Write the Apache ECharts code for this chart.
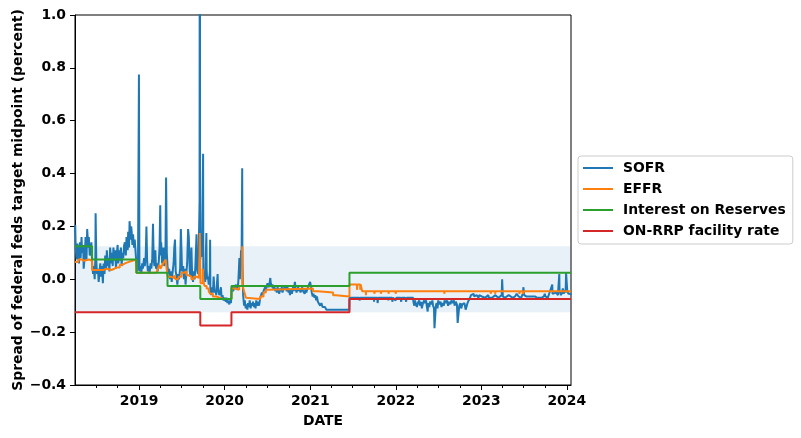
<!DOCTYPE html>
<html>
<head>
<meta charset="utf-8">
<script src="https://cdn.jsdelivr.net/npm/echarts@6/dist/echarts.min.js"></script>
<style>
html,body{margin:0;padding:0;background:#fff;}
#chart{width:801px;height:438px;}
</style>
</head>
<body>
<div id="chart"></div>
<script>
// ---- data (spread vs. fed funds target midpoint, percent) ----
const seriesNames = ["SOFR", "EFFR", "Interest on Reserves", "ON-RRP facility rate"];
const yTicks = [-0.4, -0.2, 0.0, 0.2, 0.4, 0.6, 0.8, 1.0];
const xTickYears = [2019, 2020, 2021, 2022, 2023, 2024];
const dateStart = "2018-04-02";
const dateEnd = "2024-01-19";
const bandLow = -0.125;
const bandHigh = 0.125;

const sofr = [
["2018-04-02",0.175],["2018-04-03",0.205],["2018-04-05",0.115],["2018-04-09",0.075],["2018-04-12",0.135],["2018-04-16",0.105],["2018-04-19",0.06],["2018-04-23",0.14],["2018-04-26",0.08],["2018-04-30",0.16],
["2018-05-02",0.10],["2018-05-07",0.13],["2018-05-09",0.04],["2018-05-14",0.09],["2018-05-17",0.16],["2018-05-21",0.07],["2018-05-24",0.19],["2018-05-29",0.12],["2018-05-31",0.16],
["2018-06-04",0.09],["2018-06-07",0.11],["2018-06-11",0.14],["2018-06-14",0.06],["2018-06-18",0.02],["2018-06-21",0.05],["2018-06-25",0.0],["2018-06-28",0.08],["2018-06-29",0.25],
["2018-07-02",0.07],["2018-07-05",0.02],["2018-07-09",0.04],["2018-07-12",-0.01],["2018-07-16",0.03],["2018-07-19",0.06],["2018-07-23",0.01],["2018-07-26",0.05],["2018-07-30",-0.015],
["2018-08-02",0.06],["2018-08-06",0.02],["2018-08-09",0.09],["2018-08-13",0.04],["2018-08-16",0.11],["2018-08-20",0.05],["2018-08-23",0.08],["2018-08-27",0.03],["2018-08-30",0.12],
["2018-09-04",0.06],["2018-09-06",0.10],["2018-09-10",0.05],["2018-09-13",0.12],["2018-09-17",0.07],["2018-09-20",0.11],["2018-09-24",0.04],["2018-09-27",0.09],
["2018-10-01",0.13],["2018-10-04",0.06],["2018-10-09",0.11],["2018-10-11",0.07],["2018-10-15",0.12],["2018-10-18",0.05],["2018-10-22",0.10],["2018-10-25",0.08],["2018-10-29",0.13],
["2018-11-01",0.14],["2018-11-05",0.09],["2018-11-08",0.16],["2018-11-13",0.11],["2018-11-15",0.18],["2018-11-19",0.12],["2018-11-21",0.22],["2018-11-26",0.15],["2018-11-28",0.20],["2018-11-30",0.18],
["2018-12-03",0.13],["2018-12-06",0.17],["2018-12-10",0.12],["2018-12-13",0.15],["2018-12-17",0.10],["2018-12-20",0.06],["2018-12-24",0.03],["2018-12-27",0.04],["2018-12-31",0.775],
["2019-01-02",0.06],["2019-01-04",0.03],["2019-01-08",0.05],["2019-01-10",0.02],["2019-01-14",0.06],["2019-01-17",0.04],["2019-01-22",0.08],["2019-01-25",0.05],["2019-01-29",0.09],
["2019-02-01",0.20],["2019-02-04",0.07],["2019-02-07",0.03],["2019-02-11",0.05],["2019-02-14",0.02],["2019-02-19",0.06],["2019-02-22",0.04],["2019-02-26",0.08],
["2019-03-01",0.21],["2019-03-04",0.08],["2019-03-07",0.05],["2019-03-11",0.11],["2019-03-14",0.04],["2019-03-18",0.06],["2019-03-21",0.03],["2019-03-26",0.07],["2019-03-29",0.12],
["2019-04-01",0.28],["2019-04-03",0.09],["2019-04-05",0.14],["2019-04-09",0.06],["2019-04-12",0.09],["2019-04-15",0.12],["2019-04-18",0.05],["2019-04-23",0.08],["2019-04-26",0.385],["2019-04-29",0.10],
["2019-05-02",0.05],["2019-05-06",0.02],["2019-05-09",0.04],["2019-05-13",0.0],["2019-05-16",0.03],["2019-05-20",-0.01],["2019-05-23",0.02],["2019-05-28",0.06],["2019-05-31",0.12],
["2019-06-03",0.15],["2019-06-06",0.03],["2019-06-10",0.01],["2019-06-13",-0.02],["2019-06-17",0.02],["2019-06-20",0.0],["2019-06-25",0.04],["2019-06-28",0.19],
["2019-07-01",0.10],["2019-07-03",0.03],["2019-07-08",0.05],["2019-07-11",0.0],["2019-07-15",0.04],["2019-07-18",-0.02],["2019-07-22",0.03],["2019-07-25",0.06],["2019-07-29",0.19],
["2019-08-01",0.16],["2019-08-05",0.03],["2019-08-08",0.01],["2019-08-12",0.12],["2019-08-15",0.02],["2019-08-19",-0.01],["2019-08-22",0.03],["2019-08-26",0.0],["2019-08-29",0.05],
["2019-09-03",0.17],["2019-09-05",0.04],["2019-09-09",0.02],["2019-09-12",0.09],["2019-09-16",0.30],["2019-09-17",3.125],["2019-09-18",0.425],["2019-09-19",0.075],["2019-09-20",0.125],["2019-09-23",0.085],["2019-09-25",0.11],["2019-09-27",0.14],
["2019-10-01",0.475],["2019-10-02",0.03],["2019-10-04",0.0],["2019-10-08",0.02],["2019-10-10",-0.01],["2019-10-15",0.175],["2019-10-16",0.04],["2019-10-18",0.0],["2019-10-22",0.01],["2019-10-25",-0.02],["2019-10-30",0.03],["2019-10-31",0.15],
["2019-11-01",-0.04],["2019-11-05",-0.06],["2019-11-08",-0.03],["2019-11-12",-0.05],["2019-11-15",0.01],["2019-11-19",-0.05],["2019-11-22",-0.04],["2019-11-26",-0.06],
["2019-12-02",0.02],["2019-12-04",-0.04],["2019-12-09",-0.06],["2019-12-12",-0.05],["2019-12-16",-0.03],["2019-12-19",-0.07],["2019-12-23",-0.06],["2019-12-27",-0.08],["2019-12-31",-0.075],
["2020-01-02",-0.07],["2020-01-06",-0.085],["2020-01-09",-0.07],["2020-01-13",-0.09],["2020-01-16",-0.08],["2020-01-21",-0.095],["2020-01-24",-0.08],["2020-01-28",-0.09],["2020-01-31",-0.04],
["2020-02-03",-0.03],["2020-02-06",-0.045],["2020-02-10",-0.035],["2020-02-13",-0.04],["2020-02-18",-0.02],["2020-02-21",-0.04],["2020-02-25",-0.03],["2020-02-28",-0.015],
["2020-03-02",0.04],["2020-03-04",0.08],["2020-03-06",0.0],["2020-03-09",0.05],["2020-03-11",0.11],["2020-03-13",0.05],["2020-03-16",0.42],["2020-03-17",0.06],["2020-03-18",0.02],["2020-03-20",-0.06],["2020-03-24",-0.10],["2020-03-27",-0.08],["2020-03-31",-0.11],
["2020-04-03",-0.095],["2020-04-07",-0.115],["2020-04-10",-0.09],["2020-04-14",-0.105],["2020-04-17",-0.08],["2020-04-21",-0.11],["2020-04-24",-0.09],["2020-04-28",-0.10],
["2020-05-01",-0.085],["2020-05-05",-0.105],["2020-05-08",-0.09],["2020-05-12",-0.11],["2020-05-15",-0.08],["2020-05-19",-0.10],["2020-05-22",-0.085],["2020-05-27",-0.10],
["2020-06-01",-0.07],["2020-06-04",-0.065],["2020-06-08",-0.05],["2020-06-11",-0.06],["2020-06-15",-0.045],["2020-06-18",-0.05],["2020-06-22",-0.03],["2020-06-25",-0.04],["2020-06-30",-0.035],
["2020-07-02",-0.015],["2020-07-07",-0.03],["2020-07-10",-0.02],["2020-07-14",0.005],["2020-07-16",-0.015],["2020-07-20",-0.03],["2020-07-23",-0.02],["2020-07-28",-0.04],["2020-07-31",-0.025],
["2020-08-04",-0.045],["2020-08-07",-0.035],["2020-08-11",-0.05],["2020-08-14",-0.03],["2020-08-18",-0.04],["2020-08-21",-0.055],["2020-08-25",-0.035],["2020-08-28",-0.045],
["2020-09-01",-0.03],["2020-09-04",-0.05],["2020-09-09",-0.035],["2020-09-14",-0.04],["2020-09-17",-0.025],["2020-09-22",-0.045],["2020-09-25",-0.03],["2020-09-30",-0.05],
["2020-10-02",-0.035],["2020-10-06",-0.06],["2020-10-09",-0.04],["2020-10-14",-0.055],["2020-10-19",-0.03],["2020-10-22",-0.045],["2020-10-27",-0.01],["2020-10-30",-0.035],
["2020-11-03",-0.05],["2020-11-06",-0.04],["2020-11-10",-0.03],["2020-11-13",-0.045],["2020-11-17",-0.035],["2020-11-20",-0.05],["2020-11-24",-0.04],["2020-11-27",-0.03],
["2020-12-01",-0.045],["2020-12-04",-0.04],["2020-12-08",-0.055],["2020-12-11",-0.035],["2020-12-15",-0.05],["2020-12-18",-0.04],["2020-12-22",-0.03],["2020-12-29",-0.035],["2020-12-31",-0.01],
["2021-01-04",-0.03],["2021-01-07",-0.05],["2021-01-11",-0.065],["2021-01-14",-0.055],["2021-01-19",-0.07],["2021-01-22",-0.06],["2021-01-26",-0.08],["2021-01-29",-0.065],
["2021-02-02",-0.085],["2021-02-05",-0.09],["2021-02-09",-0.08],["2021-02-12",-0.10],["2021-02-17",-0.09],["2021-02-22",-0.105],["2021-02-25",-0.10],
["2021-03-01",-0.112],["2021-03-05",-0.105],["2021-03-10",-0.115],["2021-03-15",-0.115],["2021-06-16",-0.115],
["2021-06-17",-0.07],["2021-07-29",-0.07],["2021-07-30",-0.08],["2021-08-02",-0.07],["2021-09-29",-0.07],["2021-09-30",-0.085],["2021-10-01",-0.07],
["2021-10-14",-0.07],["2021-10-15",-0.09],["2021-10-18",-0.07],["2021-11-29",-0.07],["2021-11-30",-0.08],["2021-12-01",-0.07],["2021-12-16",-0.07],["2021-12-17",-0.085],["2021-12-20",-0.07],["2021-12-31",-0.08],
["2022-01-03",-0.07],["2022-01-21",-0.07],["2022-01-24",-0.085],["2022-01-26",-0.07],["2022-02-10",-0.07],["2022-02-14",-0.085],["2022-02-16",-0.07],["2022-03-16",-0.07],
["2022-03-17",-0.085],["2022-03-21",-0.10],["2022-03-24",-0.08],["2022-03-28",-0.095],["2022-04-01",-0.105],["2022-04-05",-0.09],["2022-04-11",-0.08],["2022-04-14",-0.10],["2022-04-19",-0.085],["2022-04-22",-0.11],["2022-04-27",-0.09],
["2022-05-02",-0.08],["2022-05-05",-0.09],["2022-05-10",-0.08],["2022-05-13",-0.10],["2022-05-17",-0.122],["2022-05-19",-0.09],["2022-05-24",-0.105],["2022-05-27",-0.085],
["2022-06-01",-0.095],["2022-06-06",-0.08],["2022-06-09",-0.10],["2022-06-13",-0.11],["2022-06-15",-0.185],["2022-06-17",-0.18],["2022-06-21",-0.10],["2022-06-24",-0.09],["2022-06-28",-0.11],
["2022-07-01",-0.08],["2022-07-06",-0.095],["2022-07-11",-0.085],["2022-07-15",-0.105],["2022-07-20",-0.09],["2022-07-25",-0.10],["2022-07-28",-0.08],
["2022-08-02",-0.09],["2022-08-08",-0.08],["2022-08-12",-0.10],["2022-08-17",-0.085],["2022-08-22",-0.095],["2022-08-26",-0.08],["2022-08-31",-0.09],
["2022-09-06",-0.08],["2022-09-09",-0.10],["2022-09-14",-0.085],["2022-09-19",-0.095],["2022-09-22",-0.165],["2022-09-26",-0.16],["2022-09-29",-0.10],
["2022-10-04",-0.09],["2022-10-07",-0.11],["2022-10-12",-0.095],["2022-10-17",-0.10],["2022-10-21",-0.09],["2022-10-26",-0.115],["2022-10-31",-0.10],
["2022-11-03",-0.09],["2022-11-08",-0.08],["2022-11-14",-0.07],["2022-11-18",-0.06],["2022-11-23",-0.065],["2022-11-29",-0.055],
["2022-12-02",-0.065],["2022-12-07",-0.07],["2022-12-12",-0.06],["2022-12-15",-0.065],["2022-12-20",-0.07],["2022-12-23",-0.06],["2022-12-30",-0.065],
["2023-01-03",-0.065],["2023-01-10",-0.06],["2023-01-17",-0.07],["2023-01-24",-0.065],["2023-01-31",-0.06],["2023-02-02",-0.07],["2023-02-09",-0.065],["2023-02-16",-0.07],["2023-02-23",-0.065],
["2023-03-01",-0.06],["2023-03-08",-0.065],["2023-03-15",-0.07],["2023-03-23",-0.065],["2023-03-29",-0.06],["2023-03-31",0.0],["2023-04-03",-0.065],["2023-04-12",-0.07],["2023-04-20",-0.065],["2023-04-28",-0.06],
["2023-05-04",-0.065],["2023-05-15",-0.07],["2023-05-25",-0.065],["2023-06-01",-0.055],["2023-06-09",-0.065],["2023-06-20",-0.07],["2023-06-27",-0.055],["2023-06-30",-0.03],
["2023-07-03",-0.06],["2023-07-12",-0.065],["2023-07-20",-0.07],["2023-07-31",-0.065],["2023-08-08",-0.07],["2023-08-18",-0.065],["2023-08-28",-0.07],
["2023-09-05",-0.065],["2023-09-15",-0.07],["2023-09-25",-0.065],["2023-09-29",-0.055],["2023-10-02",-0.065],["2023-10-12",-0.07],["2023-10-20",-0.065],["2023-10-31",-0.02],
["2023-11-01",-0.055],["2023-11-09",-0.06],["2023-11-17",-0.05],["2023-11-24",-0.06],["2023-11-30",0.02],["2023-12-01",-0.045],["2023-12-07",-0.06],["2023-12-12",-0.05],["2023-12-15",-0.035],["2023-12-19",-0.055],["2023-12-22",-0.04],["2023-12-27",-0.05],["2023-12-29",0.025],
["2024-01-02",0.03],["2024-01-03",-0.045],["2024-01-08",-0.055],["2024-01-12",-0.06],["2024-01-17",-0.055],["2024-01-19",-0.06]
];

// step series: value holds from each date until the next
const effr = [
["2018-04-02",0.065],["2018-04-16",0.075],["2018-05-01",0.07],["2018-05-10",0.075],["2018-06-01",0.07],["2018-06-14",0.035],["2018-06-29",0.03],["2018-07-02",0.035],
["2018-08-01",0.04],["2018-08-16",0.035],["2018-09-04",0.04],["2018-09-17",0.045],["2018-09-27",0.05],["2018-10-01",0.045],["2018-10-10",0.055],["2018-10-23",0.06],
["2018-11-01",0.065],["2018-11-15",0.07],["2018-12-03",0.075],["2018-12-20",0.025],["2019-03-15",0.03],["2019-03-20",0.035],["2019-03-28",0.055],["2019-04-02",0.04],
["2019-04-10",0.055],["2019-04-17",0.065],["2019-04-24",0.075],["2019-05-02",0.01],["2019-05-14",0.015],["2019-05-22",0.005],["2019-05-31",0.015],["2019-06-05",0.0],
["2019-06-14",-0.005],["2019-06-21",0.01],["2019-07-01",0.025],["2019-07-12",0.03],["2019-07-22",0.015],["2019-08-01",0.01],["2019-08-12",0.0],["2019-08-22",0.01],
["2019-09-03",0.005],["2019-09-13",0.015],["2019-09-16",0.10],["2019-09-17",0.175],["2019-09-18",0.125],["2019-09-19",0.025],["2019-09-20",-0.015],["2019-09-30",0.04],
["2019-10-02",-0.005],["2019-10-07",-0.025],["2019-10-16",-0.035],["2019-10-25",-0.045],["2019-10-31",-0.055],["2019-11-12",-0.065],["2019-11-27",-0.07],["2019-12-10",-0.075],
["2019-12-31",-0.07],["2020-01-02",-0.075],["2020-01-30",-0.035],["2020-02-18",-0.04],["2020-03-03",-0.025],["2020-03-16",0.125],["2020-03-18",-0.025],["2020-03-24",-0.045],
["2020-04-01",-0.07],["2020-04-06",-0.075],["2020-06-01",-0.065],["2020-06-15",-0.05],["2020-06-25",-0.04],["2020-07-06",-0.035],["2021-01-12",-0.045],["2021-02-01",-0.05],
["2021-04-08",-0.06],["2021-04-20",-0.065],["2021-06-17",-0.02],["2021-07-19",-0.04],["2021-07-21",-0.02],["2021-08-02",-0.04],["2021-08-04",-0.02],["2021-08-10",-0.045],
["2021-08-26",-0.06],["2021-08-27",-0.045],["2021-10-01",-0.055],["2021-10-04",-0.045],["2021-10-29",-0.055],["2021-11-01",-0.045],["2021-12-01",-0.055],["2021-12-02",-0.045],
["2021-12-31",-0.055],["2022-01-03",-0.045],["2022-07-27",-0.055],["2022-07-28",-0.045],["2023-02-10",-0.055],["2023-02-13",-0.045],["2023-03-01",-0.055],["2023-03-03",-0.045],
["2023-06-12",-0.055],["2023-06-16",-0.045],["2023-06-28",-0.055],["2023-07-03",-0.045],["2024-01-19",-0.045]
];

const ioer = [
["2018-04-02",0.125],["2018-06-14",0.075],["2018-12-20",0.025],["2019-05-02",-0.025],["2019-09-19",-0.075],["2020-01-30",-0.025],["2021-06-17",0.025],["2024-01-19",0.025]
];

const onrrp = [
["2018-04-02",-0.125],["2019-09-19",-0.175],["2020-01-30",-0.125],["2021-06-17",-0.075],["2024-01-19",-0.075]
];

const colors = ["#1f77b4", "#ff7f0e", "#2ca02c", "#d62728"];

// ---- chart ----
const FONT = "DejaVu Sans";
const FS = 13.9;
function ts(s){ const p = s.split("-").map(Number); return Date.UTC(p[0], p[1]-1, p[2]); }
const toXY = arr => arr.map(d => [ts(d[0]), d[1]]);
const majorTicks = xTickYears.map(y => Date.UTC(y, 0, 1));
const minorTicks = [];
for (let y = 2018; y <= 2023; y++) {
  [3, 6, 9].forEach(m => minorTicks.push(Date.UTC(y, m, 1)));
}
const xMin = ts(dateStart), xMax = ts(dateEnd);

const chart = echarts.init(document.getElementById("chart"), null, {renderer: "canvas"});
const lineCommon = {type: "line", showSymbol: false, symbol: "none", clip: true, animation: false};

chart.setOption({
  animation: false,
  color: colors,
  textStyle: {fontFamily: FONT},
  grid: {left: 75, top: 15, width: 496, height: 370, containLabel: false, outerBoundsMode: "none",
    show: true, borderColor: "#000", borderWidth: 1, backgroundColor: "transparent"},
  legend: {
    orient: "vertical", left: 578, top: 156,
    data: seriesNames,
    icon: "rect", itemWidth: 30, itemHeight: 2, itemGap: 7,
    padding: [5, 7, 6, 5],
    backgroundColor: "rgba(255,255,255,0.8)", borderColor: "#cccccc", borderWidth: 1, borderRadius: 3,
    textStyle: {fontFamily: FONT, fontWeight: "bold", fontSize: FS, color: "#000", lineHeight: 13, padding: [0, 0, 0, 5]}
  },
  xAxis: [{
    type: "value", min: xMin, max: xMax, position: "bottom",
    name: "DATE", nameLocation: "middle", nameGap: 29, nameMoveOverlap: false,
    nameTextStyle: {fontFamily: FONT, fontWeight: "bold", fontSize: FS, color: "#000"},
    axisLine: {show: true, onZero: false, lineStyle: {color: "#000", width: 1}},
    axisTick: {show: true, inside: false, length: 5, lineStyle: {color: "#000", width: 1}, customValues: majorTicks},
    axisLabel: {show: true, margin: 9, fontFamily: FONT, fontWeight: "bold", fontSize: FS, color: "#000", customValues: majorTicks, hideOverlap: false,
      formatter: v => String(new Date(v).getUTCFullYear())},
    splitLine: {show: false}
  }, {
    type: "value", min: xMin, max: xMax, position: "bottom", offset: 0,
    axisLine: {show: false, onZero: false},
    axisTick: {show: true, inside: false, length: 3, lineStyle: {color: "#000", width: 1}, customValues: minorTicks},
    axisLabel: {show: false},
    splitLine: {show: false}
  }],
  yAxis: {
    type: "value", min: -0.4, max: 1.0, interval: 0.2,
    name: "Spread of federal feds target midpoint (percent)", nameLocation: "middle", nameGap: 50, nameMoveOverlap: false,
    nameTextStyle: {fontFamily: FONT, fontWeight: "bold", fontSize: FS, color: "#000"},
    axisLine: {show: true, onZero: false, lineStyle: {color: "#000", width: 1}},
    axisTick: {show: true, inside: false, length: 5, lineStyle: {color: "#000", width: 1}},
    axisLabel: {margin: 9, fontFamily: FONT, fontWeight: "bold", fontSize: FS, color: "#000",
      formatter: v => (v < -1e-9 ? "\u2212" : "") + Math.abs(v).toFixed(1)},
    splitLine: {show: false}
  },
  series: [
    Object.assign({}, lineCommon, {
      name: seriesNames[0], data: toXY(sofr), lineStyle: {width: 2, color: colors[0]}, z: 2,
      markArea: {silent: true, itemStyle: {color: "rgba(31,119,180,0.1)"}, data: [[{yAxis: bandLow}, {yAxis: bandHigh}]]}
    }),
    Object.assign({}, lineCommon, {name: seriesNames[1], data: toXY(effr), step: "end", lineStyle: {width: 2, color: colors[1]}, z: 3}),
    Object.assign({}, lineCommon, {name: seriesNames[2], data: toXY(ioer), step: "end", lineStyle: {width: 2, color: colors[2]}, z: 4}),
    Object.assign({}, lineCommon, {name: seriesNames[3], data: toXY(onrrp), step: "end", lineStyle: {width: 2, color: colors[3]}, z: 5})
  ]
});
</script>
</body>
</html>
